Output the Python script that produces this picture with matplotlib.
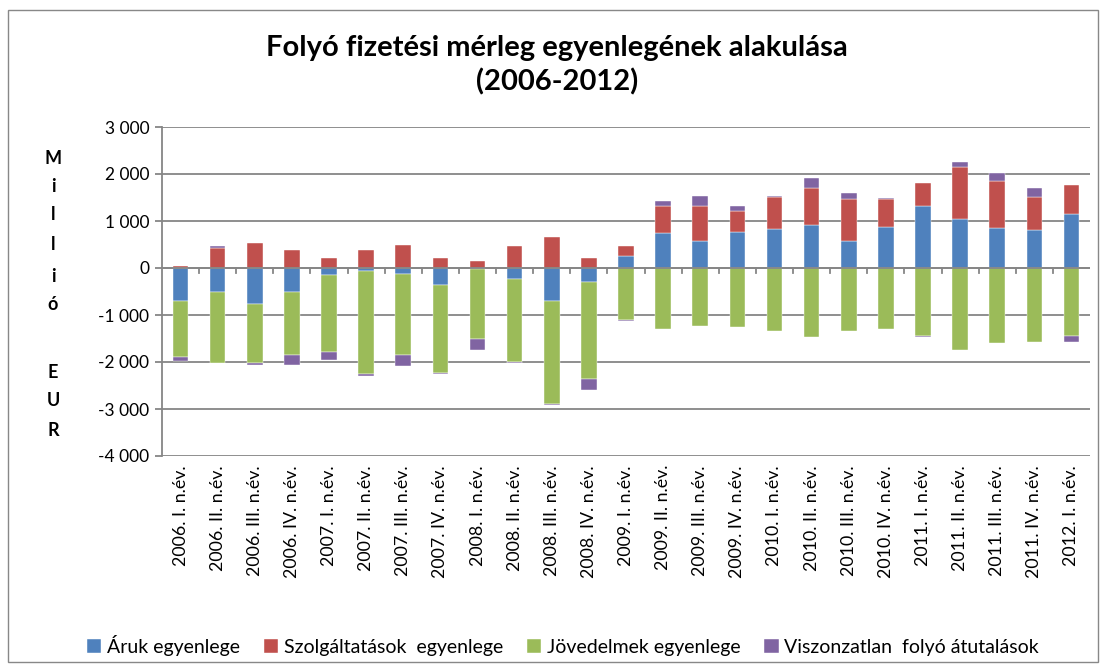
import matplotlib
matplotlib.use("Agg")
import matplotlib.pyplot as plt
import matplotlib.transforms as mtransforms
import numpy as np
from matplotlib.patches import Rectangle

plt.rcParams['font.family'] = ['Lato', 'DejaVu Sans']

categories = ["2006. I. n.év.", "2006. II. n.év.", "2006. III. n.év.", "2006. IV. n.év.",
              "2007. I. n.év.", "2007. II. n.év.", "2007. III. n.év.", "2007. IV. n.év.",
              "2008. I. n.év.", "2008. II. n.év.", "2008. III. n.év.", "2008. IV. n.év.",
              "2009. I. n.év.", "2009. II. n.év.", "2009. III. n.év.", "2009. IV. n.év.",
              "2010. I. n.év.", "2010. II. n.év.", "2010. III. n.év.", "2010. IV. n.év.",
              "2011. I. n.év.", "2011. II. n.év.", "2011. III. n.év.", "2011. IV. n.év.",
              "2012. I. n.év."]

aruk = [-710, -504, -773, -504, -149, -64, -128, -362, -20, -234, -709, -298,
        255, 738, 567, 773, 837, 908, 567, 872, 1326, 1043, 844, 801, 1149]
szolg = [50, 433, 532, 390, 220, 390, 496, 220, 149, 461, 667, 220,
         206, 588, 759, 447, 667, 787, 894, 589, 483, 1099, 1000, 703, 617]
jov = [-1180, -1517, -1255, -1347, -1631, -2198, -1723, -1872, -1490, -1759, -2178, -2064,
       -1099, -1298, -1227, -1262, -1333, -1468, -1333, -1298, -1447, -1745, -1603, -1574, -1447]
viszonz = [-90, 28, -36, -206, -170, -29, -234, -28, -234, -28, -28, -241,
           -22, 100, 206, 99, 28, 213, 135, 28, -21, 106, 170, 198, -127]

series_names = ["Áruk egyenlege", "Szolgáltatások  egyenlege", "Jövedelmek egyenlege",
                "Viszonzatlan  folyó átutalások"]
colors = ["#4F81BD", "#C0504D", "#9BBB59", "#8064A2"]

fig = plt.figure(figsize=(11.05, 6.71), dpi=100)
fig.patches.append(Rectangle((8 / 1105, 1 - 662 / 671), 1090 / 1105, 652 / 671,
                             transform=fig.transFigure, fill=False,
                             edgecolor="#888888", linewidth=1.0))

ax = fig.add_axes([162 / 1105, 1 - 456 / 671, (1090 - 162) / 1105, (456 - 127) / 671])

x = np.arange(len(categories))
pos_bottom = np.zeros(len(categories))
neg_bottom = np.zeros(len(categories))
handles = []
for vals, name, col in zip([aruk, szolg, jov, viszonz], series_names, colors):
    v = np.array(vals, dtype=float)
    bottom = np.where(v >= 0, pos_bottom, neg_bottom)
    b = ax.bar(x, v, bottom=bottom, width=0.42, color=col, label=name,
               edgecolor="white", linewidth=0.3, zorder=3)
    handles.append(b)
    pos_bottom = pos_bottom + np.where(v >= 0, v, 0)
    neg_bottom = neg_bottom + np.where(v < 0, v, 0)

ax.set_xlim(-0.5, len(categories) - 0.5)
ax.set_ylim(-4000, 3000)
ax.set_yticks(np.arange(-4000, 3001, 1000))
ax.set_yticklabels([f"{t:,}".replace(",", " ") for t in range(-4000, 3001, 1000)], fontsize=12.5)
ax.yaxis.grid(True, color="#868686", linewidth=1.3, zorder=0)
ax.set_axisbelow(True)
for s in ["top", "right", "bottom"]:
    ax.spines[s].set_visible(False)
ax.spines["left"].set_color("#868686")
ax.spines["left"].set_linewidth(1.3)
ax.tick_params(axis="y", length=5, color="#868686", width=1.3, pad=4)

# category axis at zero
ax.axhline(0, color="#868686", linewidth=1.3, zorder=4)
ax.set_xticks([])
for b in np.arange(0.5, len(categories) - 0.5, 1.0):
    ax.plot([b, b], [0, -110], color="#868686", linewidth=1.3, zorder=4, clip_on=False)

lab_tr = ax.transData + mtransforms.ScaledTranslation(0, -9 / 100, fig.dpi_scale_trans)
for i, lab in enumerate(categories):
    ax.text(i, -4000, lab, rotation=90, ha="center", va="top", fontsize=12.8,
            transform=lab_tr)

fig.text(557 / 1105, 1 - 48 / 671, "Folyó fizetési mérleg egyenlegének alakulása",
         ha="center", va="center", fontsize=21, fontweight="bold")
fig.text(557 / 1105, 1 - 82 / 671, "(2006-2012)",
         ha="center", va="center", fontsize=21, fontweight="bold")

letters = [("M", 158), ("i", 187), ("l", 215), ("l", 245), ("i", 276), ("ó", 305),
           ("E", 372), ("U", 401), ("R", 430)]
for ch, yy in letters:
    fig.text(53 / 1105, 1 - yy / 671, ch, ha="center", va="center",
             fontsize=13, fontweight="bold")

fig.legend(handles=handles, labels=series_names, loc="center",
           bbox_to_anchor=(563 / 1105, 1 - 645 / 671), ncol=4, frameon=False,
           fontsize=14, handlelength=0.75, handleheight=0.75, handletextpad=0.3,
           columnspacing=1.2)

fig.savefig("out.png", dpi=100)
